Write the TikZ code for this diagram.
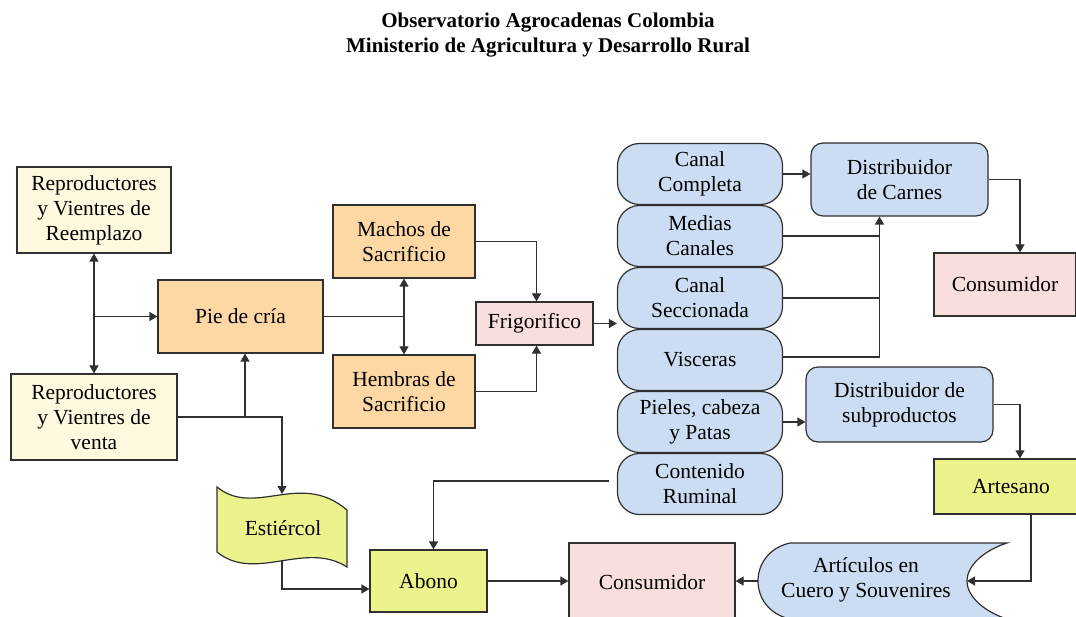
\documentclass[tikz,border=0pt]{standalone}
\usepackage{fontspec}
\setmainfont{Liberation Serif}
\usetikzlibrary{arrows.meta}
\definecolor{cream}{HTML}{FFF9E0}
\definecolor{orng}{HTML}{FDD8A5}
\definecolor{pnk}{HTML}{F9DEDE}
\definecolor{blu}{HTML}{CCDDF3}
\definecolor{ygr}{HTML}{EDF38C}
\definecolor{edge}{HTML}{303030}
\begin{document}
\begin{tikzpicture}[x=1pt,y=-1pt,
  txt/.style={align=center, inner sep=0pt, font=\fontsize{21.5}{25}\selectfont},
  box/.style={txt, draw=edge, line width=1.2pt},
  rbox/.style={box, fill=blu, rounded corners=22pt, minimum width=165pt, minimum height=61pt},
  arr/.style={-{Triangle[length=8pt,width=9pt]}, line width=1.2pt, draw=edge},
  darr/.style={{Triangle[length=8pt,width=9pt]}-{Triangle[length=8pt,width=9pt]}, line width=1.2pt, draw=edge},
  ln/.style={line width=1.2pt, draw=edge}]
\path[use as bounding box] (0,0) rectangle (1076,617);
\clip (0,0) rectangle (1076,617);

% title
\node[txt, font=\fontsize{21}{25}\selectfont\bfseries] (title) at (548,35)
  {Observatorio Agrocadenas Colombia\\Ministerio de Agricultura y Desarrollo Rural};

% left side
\node[box, fill=cream, minimum width=154pt, minimum height=86pt] (rr) at (94,210) {Reproductores\\y Vientres de\\Reemplazo};
\node[box, fill=cream, minimum width=166pt, minimum height=86pt] (rv) at (94,417) {Reproductores\\y Vientres de\\venta};
\node[box, fill=orng, minimum width=165pt, minimum height=73pt] (pie) at (240.5,316.5) {Pie de cría};
\node[box, fill=orng, minimum width=142pt, minimum height=73pt] (mach) at (404,241.5) {Machos de\\Sacrificio};
\node[box, fill=orng, minimum width=142pt, minimum height=73pt] (hem) at (404,391.5) {Hembras de\\Sacrificio};
\node[box, fill=pnk, minimum width=117pt, minimum height=43pt] (frig) at (534.5,323.5) {Frigorifico};

% blue column
\node[rbox] (cc) at (700,174) {Canal\\Completa};
\node[rbox] (mc) at (700,236) {Medias\\Canales};
\node[rbox] (cs) at (700,298) {Canal\\Seccionada};
\node[rbox] (visc) at (700,360) {Visceras};
\node[rbox] (piel) at (700,422) {Pieles, cabeza\\y Patas};
\node[rbox] (cr) at (700,484) {Contenido\\Ruminal};

% right side
\node[box, fill=blu, rounded corners=12pt, minimum width=177pt, minimum height=73pt] (dc) at (899.5,179.5) {Distribuidor\\de Carnes};
\node[box, fill=pnk, minimum width=142pt, minimum height=63pt] (cons1) at (1005,284.5) {Consumidor};
\node[box, fill=blu, rounded corners=12pt, minimum width=187pt, minimum height=75pt] (ds) at (899.5,404.5) {Distribuidor de\\subproductos};
\node[box, fill=ygr, minimum width=154pt, minimum height=55pt] (art) at (1011,486.5) {Artesano};

% bottom
\node[box, fill=ygr, minimum width=117pt, minimum height=62pt] (abono) at (428.5,581) {Abono};
\node[box, fill=pnk, minimum width=166pt, minimum height=78pt] (cons2) at (652,582) {Consumidor};

% Estiercol (tape shape)
\filldraw[fill=ygr, draw=edge, line width=1.2pt]
  (217,487) .. controls (255,518) and (300,470) .. (347,510)
  -- (347,567) .. controls (305,540) and (255,583) .. (217,552) -- cycle;
\node[txt] (est) at (283,528) {Estiércol};
\coordinate (estTop) at (282,494);
\coordinate (estBot) at (282,560);

% Articulos (stored data shape)
\filldraw[fill=blu, draw=edge, line width=1.2pt]
  (1007,543) -- (790,543) .. controls (768,548) and (758,565) .. (758,581)
  .. controls (758,597) and (768,614) .. (790,619) -- (1007,619)
  .. controls (985,612) and (967,597) .. (967,581)
  .. controls (967,565) and (985,550) .. (1007,543) -- cycle;
\node[txt] (arti) at (866,580) {Artículos en\\Cuero y Souvenires};
\coordinate (artiL) at (758,581);
\coordinate (artiR) at (967,581);

% connectors
\draw[darr] (rr.south) -- (rv.north);
\draw[arr] (rr.south |- pie.west) -- (pie.west);
\draw[arr] (rv.east) -| (estTop);
\coordinate (j1) at (245,417);
\draw[arr] (j1) -- (j1 |- pie.south);
\draw[ln] (pie.east) -- (pie.east -| mach.south);
\draw[darr] (mach.south) -- (hem.north);
\draw[arr] (mach.east) -| ([xshift=2pt]frig.north);
\draw[arr] (hem.east) -| ([xshift=2pt]frig.south);
\draw[arr] (frig.east) -- (frig.east -| visc.west);
\draw[arr] (cc.east) -- (cc.east -| dc.west);
\coordinate (j2) at ([xshift=-20pt]dc.south);
\draw[ln] (mc.east) -- (mc.east -| j2);
\draw[ln] (cs.east) -- (cs.east -| j2);
\draw[arr] ([yshift=3pt]visc.east) -| (j2);
\draw[arr] (dc.east) -| ([xshift=15pt]cons1.north);
\draw[arr] (piel.east) -- (piel.east -| ds.west);
\draw[arr] (ds.east) -| ([xshift=9pt]art.north);
\draw[arr] ([xshift=20pt]art.south) |- (artiR);
\draw[arr] (artiL) -- (artiL -| cons2.east);
\draw[arr] (abono.east) -- (abono.east -| cons2.west);
\draw[arr] ([xshift=-8pt,yshift=3pt]cr.west) -| ([xshift=5pt]abono.north);
\draw[arr] (estBot) |- ([yshift=-8pt]abono.west);
\end{tikzpicture}
\end{document}
